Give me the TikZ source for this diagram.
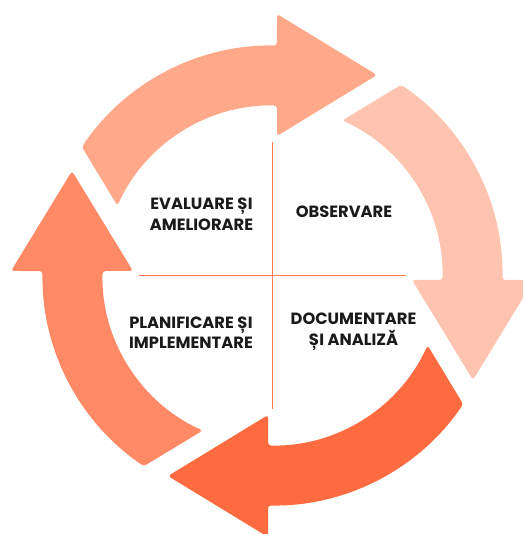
\documentclass[tikz,border=0pt]{standalone}
\usepackage{fontspec}
\setmainfont{Poppins}
\definecolor{ctop}{HTML}{FFA88A}
\definecolor{cright}{HTML}{FFC4B0}
\definecolor{cbottom}{HTML}{FF6B40}
\definecolor{cleft}{HTML}{FF8A65}
\definecolor{cline}{HTML}{FF7A50}
\definecolor{ctext}{HTML}{1A1A1A}
\tikzset{
  pics/cyc/.style={code={
    \fill[#1, rounded corners=3pt] (146.0:230) arc[start angle=146.0,end angle=88.88,radius=230]
      -- (4.5,261.5) -- (104.5,200.5) -- (4.5,139.5) -- (4.5,169.94)
      arc[start angle=88.48,end angle=155.77,radius=170] -- cycle;
  }},
  lbl/.style={align=center, text=ctext, font=\fontsize{16.3}{20.5}\selectfont\bfseries, inner sep=0pt},
  crossline/.style={draw=cline, line width=1pt}
}
\begin{document}
\begin{tikzpicture}[x=1pt,y=1pt]
\useasboundingbox (-272.5,-258.5) rectangle (250.5,275.5);
\clip (-272.5,-258.5) rectangle (250.5,275.5);
\pic {cyc=ctop};
\pic[rotate=-90] {cyc=cright};
\pic[rotate=180] {cyc=cbottom};
\pic[rotate=90] {cyc=cleft};
\coordinate (vt) at (-0.5,133.5);
\coordinate (vb) at (-0.5,-133.5);
\coordinate (hl) at (-133.5,0);
\coordinate (hr) at (133.5,0);
\draw[crossline] (vt) -- (vb);
\draw[crossline] (hl) -- (hr);
\node[lbl] (eval) at (-71,61) {EVALUARE ȘI\\AMELIORARE};
\node[lbl] (obs) at (71.5,64) {OBSERVARE};
\node[lbl] (plan) at (-81.5,-57) {PLANIFICARE ȘI\\IMPLEMENTARE};
\node[lbl] (doc) at (81,-56) {DOCUMENTARE\\ȘI ANALIZĂ};
\end{tikzpicture}
\end{document}
